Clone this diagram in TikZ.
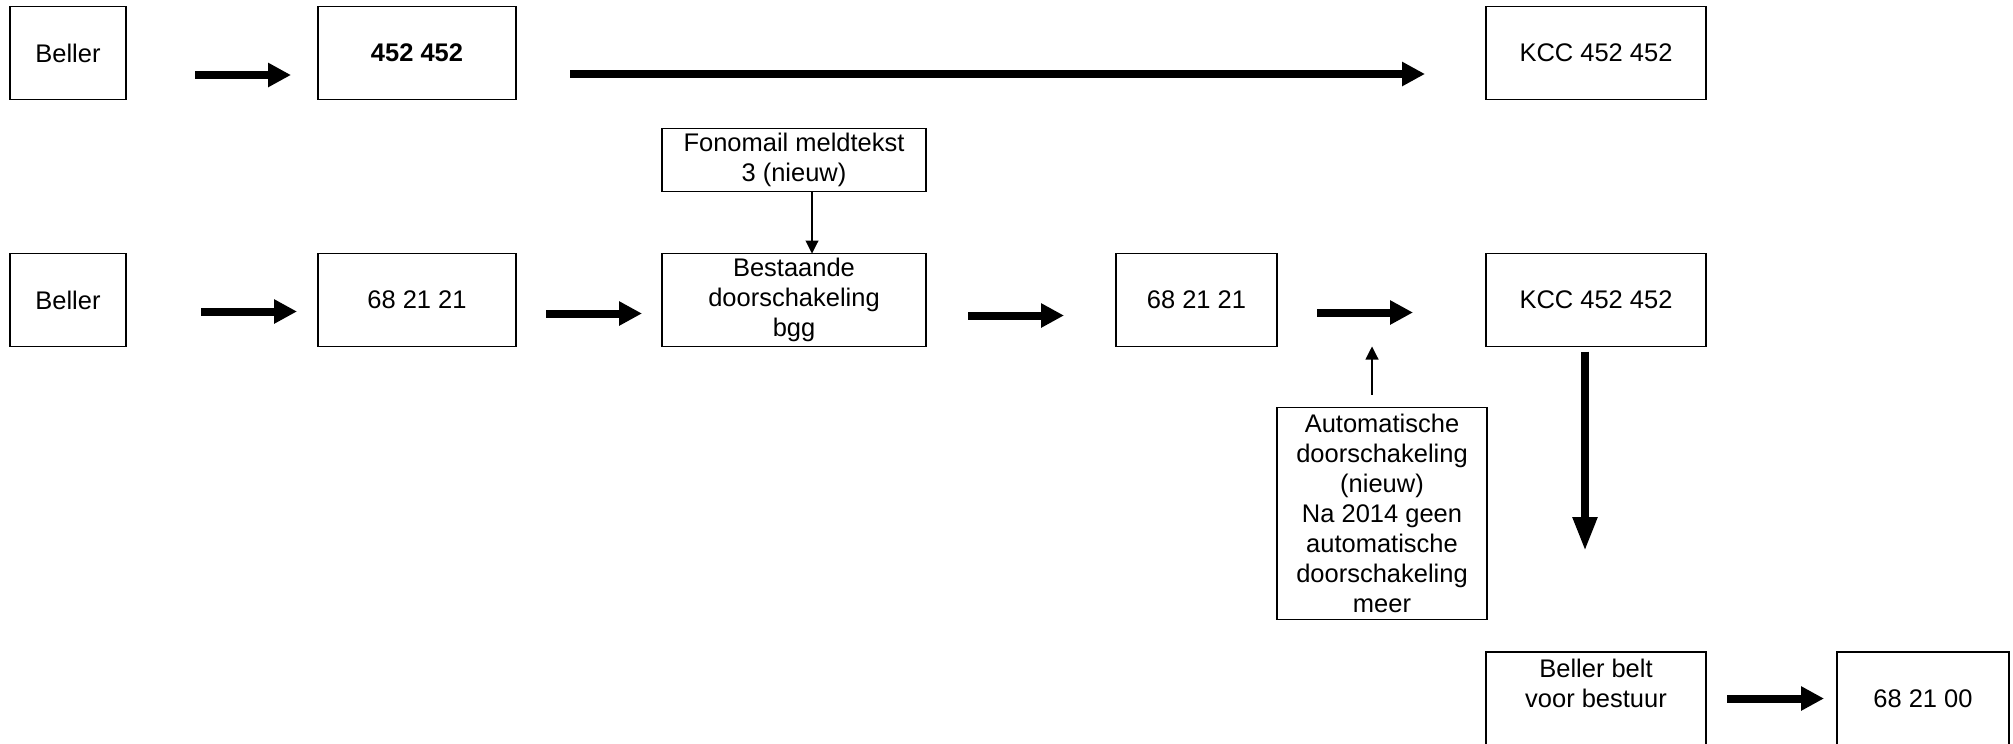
\documentclass[tikz,border=0pt]{standalone}
\usepackage{fontspec}
\setmainfont{Liberation Sans}
\usetikzlibrary{arrows.meta, positioning}

\begin{document}
\begin{tikzpicture}[
    every node/.style={align=center, font=\fontsize{14.5}{17}\selectfont},
    box/.style={rectangle, draw, line width=1.1pt, inner sep=2pt, outer sep=0pt, minimum height=1.86cm, text centered},
    bigarrow/.style={-{Triangle[length=4.6mm, width=4.6mm]}, line width=1.6mm},
    smallarrow/.style={-{Triangle[length=2.6mm, width=2.6mm]}, line width=0.6pt}
]
\useasboundingbox (0,0) rectangle (40.26,-14.86);

% top row
\node[box, minimum width=2.32cm] (bellerA) at (1.36,-1.06) {Beller};
\node[box, minimum width=3.96cm, right=3.84cm of bellerA] (numA) {\textbf{452 452}};
\node[box, minimum width=4.4cm, right=19.4cm of numA] (kccA) {KCC 452 452};

% middle row
\node[box, minimum width=2.32cm, below=3.08cm of bellerA] (bellerB) {Beller};
\node[box, minimum width=3.96cm, right=3.84cm of bellerB] (numB) {68 21 21};
\node[box, minimum width=5.28cm, right=2.92cm of numB] (doorB) {Bestaande\\doorschakeling\\bgg};
\node[box, minimum width=3.22cm, right=3.8cm of doorB] (numC) {68 21 21};
\node[box, minimum width=4.4cm, right=4.18cm of numC] (kccB) {KCC 452 452};
\node[box, minimum width=5.28cm, minimum height=1.26cm, above=1.24cm of doorB] (fono) {Fonomail meldtekst\\3 (nieuw)};
\node[box, minimum width=4.2cm, minimum height=4.24cm, below right=1.22cm and 0cm of numC.south east] (auto) {Automatische\\doorschakeling\\(nieuw)\\Na 2014 geen\\automatische\\doorschakeling\\meer};

% bottom row
\node[box, minimum width=4.4cm, below=6.11cm of kccB] (bellerC) {Beller belt\\voor bestuur\\~};
\node[box, minimum width=3.44cm, right=2.62cm of bellerC] (numD) {68 21 00};

\draw[bigarrow, shorten <=1.38cm, shorten >=0.54cm] ([yshift=-0.44cm]bellerA.east) -- ([yshift=-0.44cm]numA.west);
\draw[bigarrow, shorten <=1.08cm, shorten >=1.22cm] ([yshift=-0.42cm]numA.east) -- ([yshift=-0.42cm]kccA.west);

\draw[bigarrow, shorten <=1.5cm, shorten >=0.42cm] ([yshift=-0.23cm]bellerB.east) -- ([yshift=-0.23cm]numB.west);
\draw[bigarrow, shorten <=0.6cm, shorten >=0.4cm] ([yshift=-0.27cm]numB.east) -- ([yshift=-0.27cm]doorB.west);
\draw[bigarrow, shorten <=0.84cm, shorten >=1.04cm] ([yshift=-0.31cm]doorB.east) -- ([yshift=-0.31cm]numC.west);
\draw[bigarrow, shorten <=0.8cm, shorten >=1.46cm] ([yshift=-0.25cm]numC.east) -- ([yshift=-0.25cm]kccB.west);
\draw[bigarrow, -{Triangle[length=6.8mm, width=4.6mm]}, shorten <=0.1cm, shorten >=2.02cm] ([xshift=-0.22cm]kccB.south) -- ([xshift=-0.22cm]bellerC.north);
\draw[bigarrow, shorten <=0.42cm, shorten >=0.26cm] (bellerC.east) -- (numD.west);

\draw[smallarrow] ([xshift=0.36cm]fono.south) -- ([xshift=0.36cm]doorB.north);
\coordinate (autoTip) at ([xshift=-0.2cm, yshift=1.22cm]auto.north);
\draw[smallarrow, shorten <=0.26cm] ([xshift=-0.2cm]auto.north) -- (autoTip);
\end{tikzpicture}
\end{document}
